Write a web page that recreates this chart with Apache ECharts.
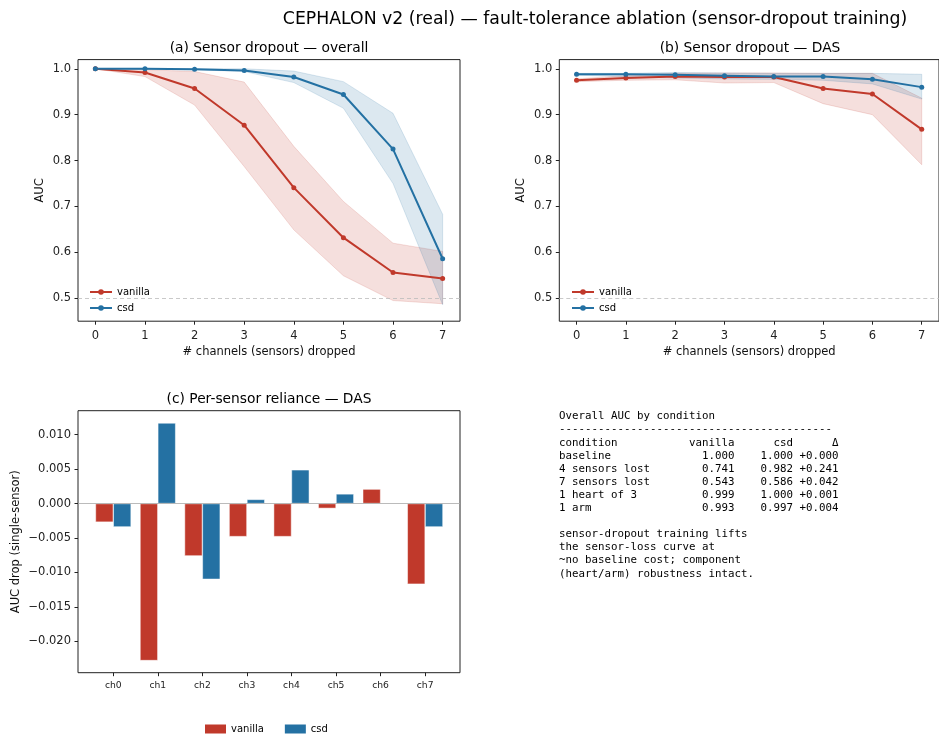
<!DOCTYPE html>
<html>
<head>
<meta charset="utf-8">
<script src="https://cdn.jsdelivr.net/npm/echarts@6/dist/echarts.min.js"></script>
<style>
html, body { margin: 0; padding: 0; background: #fff; }
#chart { width: 939px; height: 736px; }
</style>
</head>
<body>
<div id="chart"></div>
<script>
// x axis of (a) and (b)
var channelsDropped = [0, 1, 2, 3, 4, 5, 6, 7];

// (a) overall AUC, mean and band
var overallVanilla   = [1.000, 0.992, 0.957, 0.877, 0.741, 0.632, 0.556, 0.543];
var overallVanillaLo = [1.000, 0.983, 0.921, 0.787, 0.649, 0.549, 0.495, 0.488];
var overallVanillaHi = [1.000, 0.998, 0.994, 0.971, 0.831, 0.711, 0.620, 0.602];
var overallCsd       = [1.000, 1.000, 0.999, 0.996, 0.982, 0.944, 0.825, 0.586];
var overallCsdLo     = [1.000, 0.999, 0.998, 0.994, 0.970, 0.914, 0.750, 0.486];
var overallCsdHi     = [1.000, 1.000, 1.000, 1.000, 0.995, 0.972, 0.903, 0.683];

// (b) DAS AUC
var dasVanilla   = [0.975, 0.980, 0.983, 0.982, 0.982, 0.957, 0.945, 0.868];
var dasVanillaLo = [0.972, 0.975, 0.976, 0.969, 0.970, 0.924, 0.900, 0.791];
var dasVanillaHi = [0.978, 0.985, 0.990, 0.991, 0.991, 0.990, 0.990, 0.936];
var dasCsd       = [0.988, 0.988, 0.987, 0.985, 0.983, 0.983, 0.977, 0.960];
var dasCsdLo     = [0.986, 0.983, 0.980, 0.978, 0.977, 0.975, 0.967, 0.934];
var dasCsdHi     = [0.990, 0.990, 0.992, 0.991, 0.990, 0.990, 0.990, 0.988];

var aucTicks = [0.5, 0.6, 0.7, 0.8, 0.9, 1.0];

// (c) per-sensor reliance
var channels = ["ch0", "ch1", "ch2", "ch3", "ch4", "ch5", "ch6", "ch7"];
var relianceVanilla = [-0.0027, -0.0228, -0.0076, -0.0048, -0.0048, -0.0007, 0.0021, -0.0117];
var relianceCsd     = [-0.0034, 0.0117, -0.0110, 0.0006, 0.0049, 0.0014, 0.0000, -0.0034];
var relianceTicks = [-0.020, -0.015, -0.010, -0.005, 0.000, 0.005, 0.010];

// summary table
var conditions   = ["baseline", "4 sensors lost", "7 sensors lost", "1 heart of 3", "1 arm"];
var tableVanilla = [1.000, 0.741, 0.543, 0.999, 0.993];
var tableCsd     = [1.000, 0.982, 0.586, 1.000, 0.997];
var tableDelta   = [0.000, 0.241, 0.042, 0.001, 0.004];
var noteLines = [
  "sensor-dropout training lifts",
  "the sensor-loss curve at",
  "~no baseline cost; component",
  "(heart/arm) robustness intact."
];

var RED = "#c0392b";
var BLUE = "#2471a3";
var RED_BAND = "rgba(192,57,43,0.16)";
var BLUE_BAND = "rgba(36,113,163,0.16)";
var FONT = "DejaVu Sans";

var chart = echarts.init(document.getElementById("chart"), null, { renderer: "canvas" });

function pairs(ys) {
  return channelsDropped.map(function (x, i) { return [x, ys[i]]; });
}

// shaded band between lo and hi, one polygon through the axis scales
function band(lo, hi, fill, gi) {
  return {
    type: "custom", xAxisIndex: gi, yAxisIndex: gi, silent: true, z: 1,
    data: [0],
    renderItem: function (params, api) {
      var pts = [];
      channelsDropped.forEach(function (x, i) { pts.push(api.coord([x, hi[i]])); });
      for (var i = channelsDropped.length - 1; i >= 0; i--) {
        pts.push(api.coord([channelsDropped[i], lo[i]]));
      }
      return {
        type: "polygon", shape: { points: pts },
        style: { fill: fill, stroke: fill, lineWidth: 1 }
      };
    }
  };
}

function meanLine(name, ys, color, gi, withRef) {
  var s = {
    name: name, type: "line", xAxisIndex: gi, yAxisIndex: gi,
    data: pairs(ys), symbol: "circle", symbolSize: 5,
    lineStyle: { color: color, width: 2 }, itemStyle: { color: color },
    z: 3, silent: true
  };
  if (withRef) {
    s.markLine = {
      silent: true, symbol: "none", label: { show: false },
      lineStyle: { color: "#bbb", type: [4, 3], width: 0.8 },
      data: [{ yAxis: 0.5 }]
    };
  }
  return s;
}

var noLine = { show: false, onZero: false };

function sensorXAxis(gi) {
  return {
    type: "value", gridIndex: gi, min: -0.35, max: 7.35,
    name: "# channels (sensors) dropped", nameLocation: "middle", nameGap: 25,
    nameTextStyle: { fontFamily: FONT, fontSize: 11.5, color: "#111" },
    axisLine: noLine, splitLine: { show: false },
    axisTick: { show: true, length: 3.5, lineStyle: { color: "#222" }, customValues: channelsDropped },
    axisLabel: { fontFamily: FONT, fontSize: 11.5, color: "#222", margin: 9, customValues: channelsDropped }
  };
}

function aucYAxis(gi) {
  return {
    type: "value", gridIndex: gi, min: 0.45, max: 1.02,
    name: "AUC", nameLocation: "middle", nameGap: 32,
    nameTextStyle: { fontFamily: FONT, fontSize: 11.5, color: "#111" },
    axisLine: noLine, splitLine: { show: false },
    axisTick: { show: true, length: 3.5, lineStyle: { color: "#222" }, customValues: aucTicks },
    axisLabel: {
      fontFamily: FONT, fontSize: 11.5, color: "#222", margin: 7, customValues: aucTicks,
      formatter: function (v) { return v.toFixed(1); }
    }
  };
}

function fmtDrop(v) {
  var s = Math.abs(v).toFixed(3);
  return (v < -1e-9 ? "\u2212" : "") + s;
}

// text block
var tableLines = ["Overall AUC by condition", new Array(43).join("-")];
tableLines.push("condition".padEnd(18) + "vanilla".padStart(9) + "csd".padStart(9) + "\u0394".padStart(7));
conditions.forEach(function (c, i) {
  tableLines.push(c.padEnd(18) + tableVanilla[i].toFixed(3).padStart(9) +
    tableCsd[i].toFixed(3).padStart(9) + ("+" + tableDelta[i].toFixed(3)).padStart(7));
});
tableLines.push("");
tableLines = tableLines.concat(noteLines);

var boxGrid = { show: true, borderColor: "#222", borderWidth: 1, backgroundColor: "transparent" };
var lineLegend = {
  orient: "vertical", itemGap: 6, itemWidth: 22, itemHeight: 7,
  data: ["vanilla", "csd"], selectedMode: false,
  textStyle: { fontFamily: FONT, fontSize: 10, color: "#000" }
};

var option = {
  animation: false,
  backgroundColor: "#fff",
  title: [
    { text: "CEPHALON v2 (real) \u2014 fault-tolerance ablation (sensor-dropout training)",
      left: 590, top: 6, textAlign: "center",
      textStyle: { fontFamily: FONT, fontSize: 17.3, fontWeight: "normal", color: "#000" } },
    { text: "(a) Sensor dropout \u2014 overall", left: 264, top: 36, textAlign: "center",
      textStyle: { fontFamily: FONT, fontSize: 13.8, fontWeight: "normal", color: "#000" } },
    { text: "(b) Sensor dropout \u2014 DAS", left: 745, top: 36, textAlign: "center",
      textStyle: { fontFamily: FONT, fontSize: 13.8, fontWeight: "normal", color: "#000" } },
    { text: "(c) Per-sensor reliance \u2014 DAS", left: 264, top: 387, textAlign: "center",
      textStyle: { fontFamily: FONT, fontSize: 13.8, fontWeight: "normal", color: "#000" } }
  ],
  legend: [
    Object.assign({ left: 84, top: 282 }, lineLegend),
    Object.assign({ left: 566, top: 282 }, lineLegend),
    { orient: "horizontal", left: 200, top: 719, itemGap: 21, itemWidth: 21, itemHeight: 9,
      selectedMode: false,
      data: [
        { name: "vanilla", icon: "rect", itemStyle: { color: RED } },
        { name: "csd", icon: "rect", itemStyle: { color: BLUE } }
      ],
      textStyle: { fontFamily: FONT, fontSize: 10, color: "#000" } }
  ],
  grid: [
    Object.assign({ left: 78, top: 59.6, width: 382, height: 261.6 }, boxGrid),
    Object.assign({ left: 559.3, top: 59.6, width: 382.4, height: 261.6 }, boxGrid),
    Object.assign({ left: 78, top: 410.7, width: 382, height: 262 }, boxGrid),
    { left: 91, top: 410.7, width: 356.4, height: 262, show: false }
  ],
  xAxis: [
    sensorXAxis(0),
    sensorXAxis(1),
    { type: "value", gridIndex: 2, min: 0, max: 1, show: false },
    { type: "category", gridIndex: 3, data: channels,
      axisLine: noLine,
      axisTick: { show: true, alignWithLabel: true, length: 3.5, lineStyle: { color: "#222" } },
      axisLabel: { fontFamily: FONT, fontSize: 9.2, color: "#222", margin: 8 } }
  ],
  yAxis: [
    aucYAxis(0),
    aucYAxis(1),
    { type: "value", gridIndex: 2, min: -0.02456, max: 0.01348,
      name: "AUC drop (single-sensor)", nameLocation: "middle", nameGap: 56,
      nameTextStyle: { fontFamily: FONT, fontSize: 11.5, color: "#111" },
      axisLine: noLine, splitLine: { show: false },
      axisTick: { show: true, length: 3.5, lineStyle: { color: "#222" }, customValues: relianceTicks },
      axisLabel: { fontFamily: FONT, fontSize: 11.5, color: "#222", margin: 7,
        customValues: relianceTicks, formatter: fmtDrop } },
    { type: "value", gridIndex: 3, min: -0.02456, max: 0.01348, show: false }
  ],
  series: [
    meanLine("vanilla", overallVanilla, RED, 0, true),
    meanLine("csd", overallCsd, BLUE, 0, false),
    band(overallVanillaLo, overallVanillaHi, RED_BAND, 0),
    band(overallCsdLo, overallCsdHi, BLUE_BAND, 0),
    meanLine("vanilla", dasVanilla, RED, 1, true),
    meanLine("csd", dasCsd, BLUE, 1, false),
    band(dasVanillaLo, dasVanillaHi, RED_BAND, 1),
    band(dasCsdLo, dasCsdHi, BLUE_BAND, 1),
    { type: "line", xAxisIndex: 2, yAxisIndex: 2, data: [], silent: true,
      markLine: { silent: true, symbol: "none", label: { show: false },
        lineStyle: { color: "#aaa", type: "solid", width: 0.8 }, data: [{ yAxis: 0 }] } },
    { name: "vanilla", type: "bar", xAxisIndex: 3, yAxisIndex: 3, data: relianceVanilla,
      barWidth: "40%", barGap: "0%", silent: true,
      itemStyle: { color: RED, borderColor: "#fff", borderWidth: 0.5 } },
    { name: "csd", type: "bar", xAxisIndex: 3, yAxisIndex: 3, data: relianceCsd,
      barWidth: "40%", barGap: "0%", silent: true,
      itemStyle: { color: BLUE, borderColor: "#fff", borderWidth: 0.5 } }
  ],
  graphic: [
    { type: "text", left: 559, top: 410, silent: true,
      style: { text: tableLines.join("\n"), fontFamily: "DejaVu Sans Mono", fontSize: 10.8,
        lineHeight: 13.1, fill: "#000" } }
  ]
};

chart.setOption(option);
</script>
</body>
</html>
